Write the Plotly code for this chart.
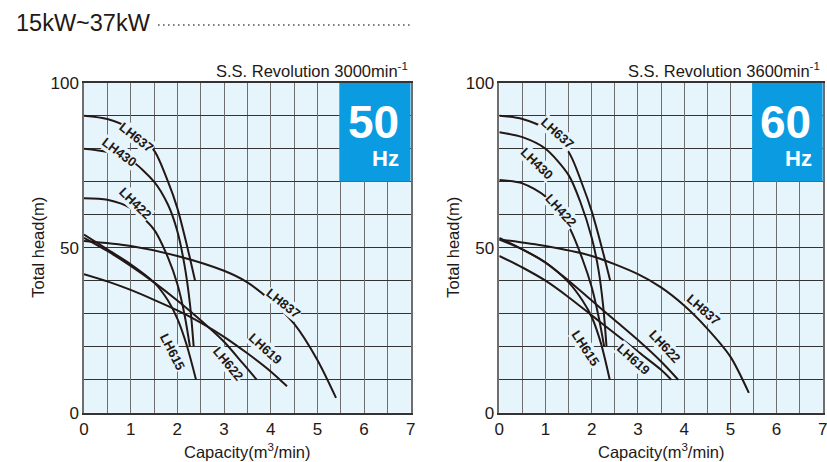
import plotly.graph_objects as go

W, H = 827, 462

# ---------------- data (capacity m3/min, total head m) ----------------
# 50 Hz (S.S. Revolution 3000 min-1)
q50_lh637 = [0, 0.5, 1.0, 1.5, 1.8, 2.0, 2.2, 2.38]
h50_lh637 = [90, 89, 86, 79.5, 70, 62, 51, 40]
q50_lh430 = [0, 0.5, 1.0, 1.5, 1.8, 2.0, 2.15, 2.27, 2.35]
h50_lh430 = [80, 79, 76.5, 70, 63, 55, 45, 33, 20]
q50_lh422 = [0, 0.5, 1.0, 1.5, 1.8, 2.0, 2.15, 2.27]
h50_lh422 = [65, 64.5, 62, 55.5, 47, 39, 30, 20]
q50_lh837 = [0, 1, 2, 3, 3.5, 4, 4.5, 5, 5.4]
h50_lh837 = [52, 50.5, 47.5, 43, 39.5, 34, 27, 16, 4.5]
q50_lh615 = [0, 0.5, 1.0, 1.5, 1.8, 2.0, 2.2, 2.4]
h50_lh615 = [54, 49.5, 45, 39.5, 34, 28.5, 20.5, 10]
q50_lh622 = [0, 0.5, 1.0, 1.5, 2.0, 2.5, 3.0, 3.4, 3.7]
h50_lh622 = [53, 49, 44.5, 39.5, 34, 28, 21.5, 15, 10]
q50_lh619 = [0, 0.5, 1.0, 1.5, 2.0, 2.5, 3.0, 3.5, 4.0, 4.35]
h50_lh619 = [42, 39.8, 37.2, 34.2, 31, 27.3, 23, 18, 12.5, 8]

# 60 Hz (S.S. Revolution 3600 min-1)
q60_lh637 = [0, 0.5, 1.0, 1.5, 1.8, 2.0, 2.2, 2.4]
h60_lh637 = [90, 89, 86, 79, 69, 61, 51, 40]
q60_lh430 = [0, 0.5, 1.0, 1.5, 1.75, 2.0, 2.15, 2.25, 2.32]
h60_lh430 = [85, 83.5, 80, 72, 64, 53, 43, 32, 20]
q60_lh422 = [0, 0.5, 1.0, 1.5, 1.8, 2.0, 2.15, 2.27]
h60_lh422 = [70.5, 69.5, 65.5, 56.5, 46.5, 38, 29, 20]
q60_lh837 = [0, 1, 2, 3, 3.5, 4, 4.5, 5, 5.4]
h60_lh837 = [52.5, 50.5, 47.5, 42, 38, 32.5, 25.5, 17, 6]
q60_lh615 = [0, 0.5, 1.0, 1.5, 1.8, 2.0, 2.2, 2.39]
h60_lh615 = [53, 49.5, 45.5, 39.5, 34, 29, 21, 10]
q60_lh622 = [0, 0.5, 1.0, 1.5, 2.0, 2.5, 3.0, 3.5, 3.87]
h60_lh622 = [52.5, 49.5, 45.5, 40, 34, 28, 22, 15.5, 10]
q60_lh619 = [0, 0.5, 1.0, 1.5, 2.0, 2.5, 3.0, 3.5, 3.72]
h60_lh619 = [47.5, 44, 40, 35, 29.5, 24, 18.5, 13, 10]

x_ticks = [0, 1, 2, 3, 4, 5, 6, 7]
y_ticks = [0, 50, 100]

curves50 = [("LH637", q50_lh637, h50_lh637), ("LH430", q50_lh430, h50_lh430),
            ("LH422", q50_lh422, h50_lh422), ("LH837", q50_lh837, h50_lh837),
            ("LH615", q50_lh615, h50_lh615), ("LH622", q50_lh622, h50_lh622),
            ("LH619", q50_lh619, h50_lh619)]
curves60 = [("LH637", q60_lh637, h60_lh637), ("LH430", q60_lh430, h60_lh430),
            ("LH422", q60_lh422, h60_lh422), ("LH837", q60_lh837, h60_lh837),
            ("LH615", q60_lh615, h60_lh615), ("LH622", q60_lh622, h60_lh622),
            ("LH619", q60_lh619, h60_lh619)]

# label placement (x, y, angle)
labels50 = {"LH637": (1.13, 83.5, 38), "LH430": (0.77, 79, 37), "LH422": (1.11, 63.5, 44),
            "LH837": (4.28, 33.2, 38), "LH619": (3.88, 19.5, 42), "LH622": (3.09, 15, 50),
            "LH615": (1.89, 18.5, 63)}
labels60 = {"LH637": (1.27, 84.7, 42), "LH430": (0.81, 75.4, 44), "LH422": (1.33, 61.2, 48),
            "LH837": (4.41, 31.3, 41), "LH622": (3.58, 20, 47), "LH619": (2.91, 16.2, 42),
            "LH615": (1.87, 19.5, 57)}

INK = "#231815"
BG = "#e6f4fc"
BLUE = "#0a9be0"
FONT = "Liberation Sans, Arial, sans-serif"

fig = go.Figure()
for curves, xa, ya in [(curves50, "x", "y"), (curves60, "x2", "y2")]:
    for name, q, h in curves:
        fig.add_trace(go.Scatter(x=q, y=h, mode="lines", name=name, xaxis=xa, yaxis=ya,
                                 line=dict(color=INK, width=2, shape="spline", smoothing=0.8),
                                 showlegend=False, hoverinfo="skip"))

# plot area positions in pixels
L1, R1 = 84, 410.7
L2, R2 = 499.3, 822.8
T, B = 82.7, 412.7
ydom = [1 - B / H, 1 - T / H]

def xaxis(dom):
    return dict(domain=dom, range=[0, 7], tickvals=x_ticks, showgrid=True,
                gridcolor="#6e6e6e", gridwidth=1.3, zeroline=False,
                minor=dict(dtick=0.5, showgrid=True, gridcolor="#6e6e6e", gridwidth=1.3),
                showline=True, mirror=True, linecolor="#333333", linewidth=1.5,
                ticklabeloverflow="allow",
                tickfont=dict(size=17, color=INK, family=FONT), ticks="", fixedrange=True)

def yaxis(anchor):
    return dict(domain=ydom, range=[0, 100], tickvals=y_ticks, anchor=anchor, showgrid=True,
                gridcolor="#333333", gridwidth=1.3, zeroline=False,
                minor=dict(dtick=10, showgrid=True, gridcolor="#333333", gridwidth=1.3),
                showline=True, mirror=True, linecolor="#6e6e6e", linewidth=1.5,
                tickfont=dict(size=17, color=INK, family=FONT), ticks="", fixedrange=True)

fig.update_layout(
    width=W, height=H, margin=dict(l=0, r=0, t=0, b=0),
    paper_bgcolor="white", plot_bgcolor=BG, template="none",
    xaxis=dict(**xaxis([L1 / W, R1 / W]), anchor="y"),
    yaxis=yaxis("x"),
    xaxis2=dict(**xaxis([L2 / W, R2 / W]), anchor="y2"),
    yaxis2=yaxis("x2"),
    font=dict(family=FONT, color=INK),
)

ann = []
shapes = []
for labels, xr, yr in [(labels50, "x", "y"), (labels60, "x2", "y2")]:
    for name, (lx, ly, ang) in labels.items():
        ann.append(dict(x=lx, y=ly, xref=xr, yref=yr, text="<b>%s</b>" % name, showarrow=False,
                        textangle=ang, font=dict(size=13, color=INK, family=FONT),
                        bgcolor=BG, borderpad=0))

# Hz boxes
for xr, yr, hz in [("x", "y", "50"), ("x2", "y2", "60")]:
    shapes.append(dict(type="rect", xref=xr, yref=yr, x0=5.47, x1=7, y0=70, y1=100,
                       fillcolor=BLUE, line=dict(width=0), layer="above"))
    ann.append(dict(x=6.2, y=88, xref=xr, yref=yr, text="<b>%s</b>" % hz, showarrow=False,
                    font=dict(size=46, color="white", family=FONT)))
    ann.append(dict(x=6.47, y=77, xref=xr, yref=yr, text="<b>Hz</b>", showarrow=False,
                    font=dict(size=22, color="white", family=FONT)))

def px(x, y):
    return x / W, 1 - y / H

# main title and dotted leader
tx, ty = px(14, 23)
ann.append(dict(x=tx, y=ty, xref="paper", yref="paper", text="15kW~37kW", showarrow=False,
                xanchor="left", yanchor="middle", font=dict(size=23.5, color=INK, family=FONT)))
shapes.append(dict(type="line", xref="paper", yref="paper", x0=158 / W, x1=412 / W,
                   y0=1 - 25 / H, y1=1 - 25 / H, line=dict(color="#555555", width=1.6, dash="1.6px,3.4px")))

for rx, rev in [(410, "3000"), (822, "3600")]:
    sx, sy = px(rx, 70)
    ann.append(dict(x=sx, y=sy, xref="paper", yref="paper",
                    text="S.S. Revolution %smin<sup>-1</sup>" % rev, showarrow=False,
                    xanchor="right", yanchor="middle", font=dict(size=16.5, color=INK, family=FONT)))

for cx, ytx in [(247, 38), (661, 453)]:
    ax, ay = px(cx, 451)
    ann.append(dict(x=ax, y=ay, xref="paper", yref="paper", text="Capacity(m<sup>3</sup>/min)",
                    showarrow=False, xanchor="center", yanchor="middle",
                    font=dict(size=16.5, color=INK, family=FONT)))
    bx, by = px(ytx, 247.7)
    ann.append(dict(x=bx, y=by, xref="paper", yref="paper", text="Total head(m)", showarrow=False,
                    textangle=-90, xanchor="center", yanchor="middle",
                    font=dict(size=16.5, color=INK, family=FONT)))

fig.update_layout(annotations=ann, shapes=shapes)
fig.write_html("out.html", config={"displayModeBar": False},
               post_script="document.body.style.margin='0';document.body.style.padding='0';")
